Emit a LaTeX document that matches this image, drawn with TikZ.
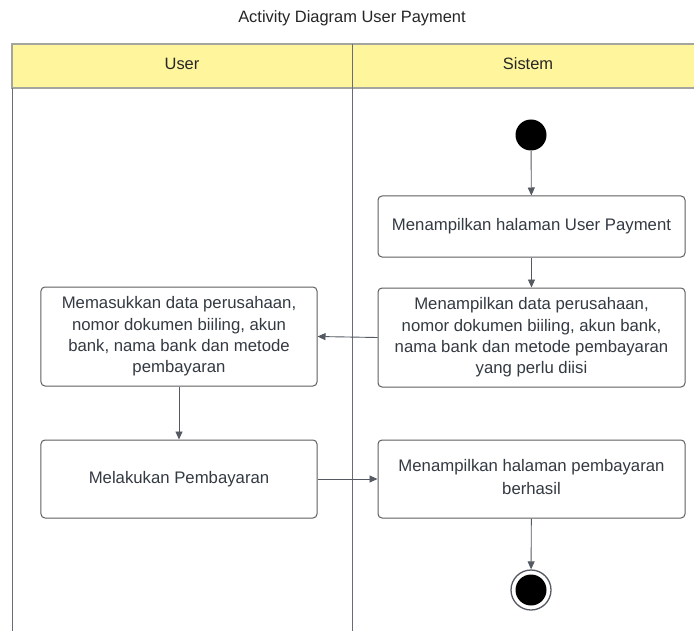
\documentclass[tikz,border=0pt]{standalone}
\usepackage{fontspec}
\setmainfont{Liberation Sans}
\usetikzlibrary{arrows.meta}
\definecolor{hdrfill}{RGB}{255,245,157}
\definecolor{hdrline}{RGB}{165,165,160}
\definecolor{laneline}{RGB}{105,108,115}
\definecolor{boxline}{RGB}{95,95,95}
\definecolor{txt}{RGB}{52,58,66}
\definecolor{flow}{RGB}{85,90,98}
\tikzset{
  actbox/.style={draw=boxline, line width=1bp, rounded corners=4bp, fill=white,
    text=txt, align=center, font=\fontsize{16.8}{21.5}\selectfont, inner sep=0pt},
  flowline/.style={draw=flow, line width=0.9bp, -{Triangle[length=8bp,width=7bp]}},
  lane/.style={draw=laneline, line width=0.9bp},
  hdr/.style={font=\fontsize{16.5}{18}\selectfont, text=black!85},
}
\begin{document}
\begin{tikzpicture}[x=1bp,y=-1bp]
\useasboundingbox (0,0) rectangle (694,631);
\fill[white] (0,0) rectangle (694,631);
% title
\node[font=\fontsize{16.5}{18}\selectfont, text=black!85] (title) at (352,18) {Activity Diagram User Payment};
% swimlane header
\fill[hdrfill] (12,44) rectangle (694,88);
\draw[hdrline, line width=1.2bp] (694,44) -- (12,44) -- (12,88) -- (694,88);
\draw[laneline, line width=0.9bp] (352,44) -- (352,88);
\node[hdr] (hUser) at (182,64) {User};
\node[hdr] (hSistem) at (528,64) {Sistem};
% lane borders
\draw[lane] (12,88) -- (12,631);
\draw[lane] (352,88) -- (352,631);
% start node
\node[circle, fill=black, minimum size=31bp, inner sep=0pt] (start) at (531,135) {};
% activities
\node[actbox, minimum width=307bp, minimum height=61bp] (a1) at (531.5,226.5) {Menampilkan halaman User Payment};
\node[actbox, minimum width=307bp, minimum height=99bp] (a2) at (531.5,337.5) {Menampilkan data perusahaan,\\nomor dokumen biiling, akun bank,\\nama bank dan metode pembayaran\\yang perlu diisi};
\node[actbox, minimum width=276bp, minimum height=99bp] (u1) at (179,336.5) {Memasukkan data perusahaan,\\nomor dokumen biiling, akun\\bank, nama bank dan metode\\pembayaran};
\node[actbox, minimum width=276bp, minimum height=78bp] (u2) at (179,479) {Melakukan Pembayaran};
\node[actbox, minimum width=307bp, minimum height=78bp] (a3) at (531.5,479) {};
\node[text=txt, align=center, font=\fontsize{16.8}{22.5}\selectfont] (a3t) at (531.5,477) {Menampilkan halaman pembayaran\\berhasil};
% final node
\node[circle, draw=flow, line width=1.3bp, fill=white, minimum size=40bp, inner sep=0pt] (final) at (531,590) {};
\node[circle, fill=black, minimum size=31bp, inner sep=0pt] (finalin) at (531,590) {};
% control flows
\draw[flowline] (start) -- (a1);
\draw[flowline] (a1) -- (a2);
\draw[flowline] (a2.west) -- (u1.east);
\draw[flowline] (u1) -- (u2);
\draw[flowline] (u2.east) -- (a3.west);
\draw[flowline] (a3) -- (final);
\end{tikzpicture}
\end{document}
